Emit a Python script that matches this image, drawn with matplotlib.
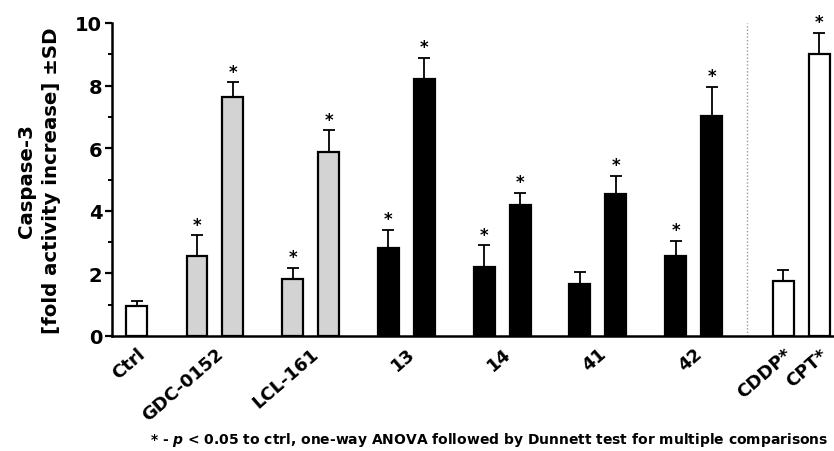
import numpy as np
import matplotlib
matplotlib.use("Agg")
import matplotlib.pyplot as plt

plt.rcParams['font.family'] = ['DejaVu Sans']
plt.rcParams['font.weight'] = 'bold'
plt.rcParams['mathtext.fontset'] = 'custom'
plt.rcParams['mathtext.it'] = 'DejaVu Sans:bold:italic'
plt.rcParams['mathtext.rm'] = 'DejaVu Sans:bold'

# data (fold increase of caspase-3 activity, mean and SD)
labels = ["Ctrl", "GDC-0152", "LCL-161", "13", "14", "41", "42", "CDDP*", "CPT*"]
ctrl_mean = [0.97]
ctrl_sd = [0.15]
pair_groups = ["GDC-0152", "LCL-161", "13", "14", "41", "42"]
pair_low = [2.57, 1.82, 2.80, 2.21, 1.66, 2.57]
pair_low_sd = [0.66, 0.36, 0.60, 0.70, 0.38, 0.47]
pair_high = [7.63, 5.87, 8.21, 4.18, 4.54, 7.04]
pair_high_sd = [0.48, 0.71, 0.68, 0.40, 0.58, 0.93]
pair_low_sig = [True, True, True, True, False, True]
pair_high_sig = [True, True, True, True, True, True]
ref_mean = [1.75, 9.01]      # CDDP, CPT
ref_sd = [0.37, 0.68]
ref_sig = [False, True]

# colours per group
pair_colors = ["#d3d3d3", "#d3d3d3", "black", "black", "black", "black"]

# layout (in bar pitch units)
ctrl_x = np.array([0.69])
centers = 2.86 + 2.66 * np.arange(len(pair_groups))
low_x = centers - 0.5
high_x = centers + 0.5
ref_x = np.array([18.65, 19.65])
sep_x = 17.64
bw = 0.58

fig = plt.figure(figsize=(8.34, 4.52), dpi=100)
ax = fig.add_axes([112 / 834, 115 / 452, 722 / 834, 313 / 452])

bar_kw = dict(width=bw, edgecolor="black", linewidth=1.6, zorder=3,
              error_kw=dict(ecolor="black", elinewidth=1.3, capsize=4, capthick=1.3))

ax.bar(ctrl_x, ctrl_mean, color="white",
       yerr=[np.zeros(1), ctrl_sd], **bar_kw)
ax.bar(low_x, pair_low, color=pair_colors,
       yerr=[np.zeros(len(pair_low)), pair_low_sd], **bar_kw)
ax.bar(high_x, pair_high, color=pair_colors,
       yerr=[np.zeros(len(pair_high)), pair_high_sd], **bar_kw)
ax.bar(ref_x, ref_mean, color="white",
       yerr=[np.zeros(2), ref_sd], **bar_kw)

# significance stars
xs = np.concatenate([low_x, high_x, ref_x])
tops = np.concatenate([np.array(pair_low) + pair_low_sd,
                       np.array(pair_high) + pair_high_sd,
                       np.array(ref_mean) + ref_sd])
sig = pair_low_sig + pair_high_sig + ref_sig
for x, t, s in zip(xs, tops, sig):
    if s:
        ax.annotate("*", xy=(x, t), xytext=(0, 1), textcoords="offset points",
                    ha="center", va="bottom", fontsize=12, fontweight="bold")

ax.axvline(sep_x, color="#999999", linestyle=(0, (1, 1.5)), linewidth=1.0, zorder=1)

ax.set_xlim(0, 20.06)
ax.set_ylim(0, 10)
ax.set_yticks([0, 2, 4, 6, 8, 10])
ax.set_yticks([1, 3, 5, 7, 9], minor=True)
ax.tick_params(axis="y", which="major", length=5, width=1.6, labelsize=14, pad=2)
ax.tick_params(axis="y", which="minor", length=3, width=1.4)

tick_pos = np.concatenate([ctrl_x, centers, ref_x])
ax.set_xticks(tick_pos)
ax.set_xticklabels(labels, rotation=41, ha="right", va="top",
                   rotation_mode="anchor", fontsize=13, fontweight="bold")
ax.tick_params(axis="x", length=0, pad=6)

for side in ["top", "right"]:
    ax.spines[side].set_visible(False)
for side in ["left", "bottom"]:
    ax.spines[side].set_linewidth(1.8)

for lab in ax.get_yticklabels():
    lab.set_fontweight("bold")

ax.text(-0.101, 0.5, "Caspase-3\n[fold activity increase] \u00b1SD",
        transform=ax.transAxes, rotation=90, ha="center", va="center",
        fontsize=14.2, fontweight="bold", linespacing=1.45, multialignment="center")

fig.text(828 / 834, 12 / 452,
         "* - $p$ < 0.05 to ctrl, one-way ANOVA followed by Dunnett test for multiple comparisons",
         ha="right", va="center", fontsize=10, fontweight="bold")

fig.savefig("out.png", dpi=100)
